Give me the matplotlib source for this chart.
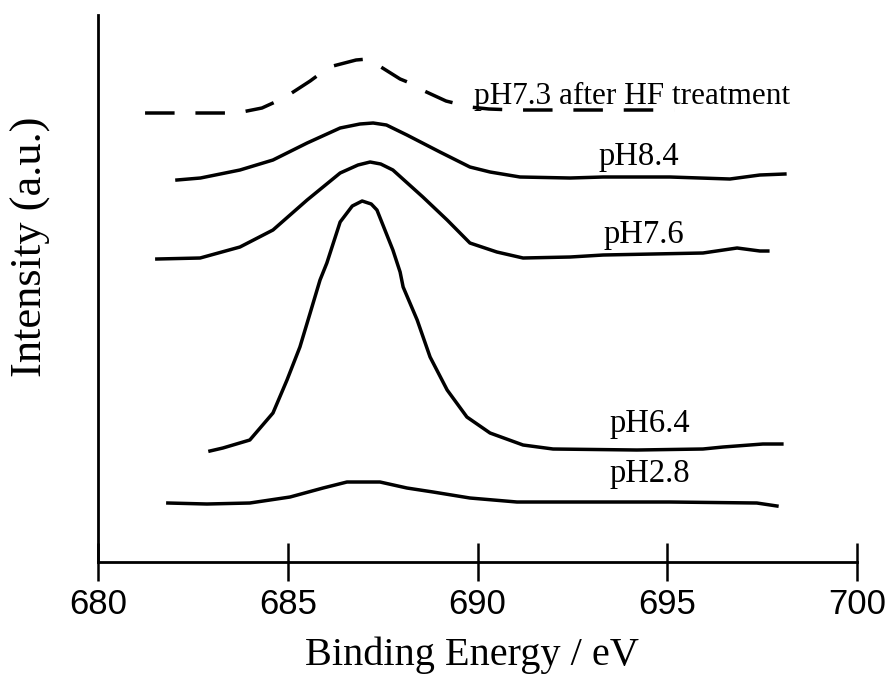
import matplotlib
matplotlib.use("Agg")
import matplotlib.pyplot as plt

# spectra: binding energy (eV) and intensity (a.u., stacked)
hf_x = [681.24, 681.95, 682.45, 683.16, 683.66, 684.32, 684.90, 685.59, 686.09, 686.80,
        687.10, 687.33, 687.96, 688.22, 688.54, 689.17, 689.80, 690.30, 691.00, 692.00,
        693.00, 694.00, 695.18]
hf_y = [449, 449, 449, 449, 449, 454, 464, 481, 495, 502,
        503, 498, 483, 479, 472, 461, 455, 453, 452, 452,
        452, 452, 452]

ph84_x = [682.08, 682.70, 683.74, 684.61, 685.51, 686.38, 686.90, 687.25, 687.60, 688.14,
          689.01, 689.80, 690.33, 691.12, 692.44, 693.31, 695.07, 696.65, 697.44, 698.10]
ph84_y = [382, 384, 392, 402, 419, 434, 438, 439, 437, 427,
          410, 395, 390, 385, 384, 385, 385, 383, 387, 388]

ph76_x = [681.55, 682.69, 683.74, 684.61, 685.51, 686.38, 686.85, 687.17, 687.45, 687.77,
          688.56, 689.20, 689.80, 690.51, 691.20, 692.44, 693.31, 694.62, 695.94, 696.84,
          697.44, 697.65]
ph76_y = [303, 304, 315, 332, 362, 389, 397, 400, 398, 392,
          365, 342, 319, 310, 304, 305, 307, 308, 309, 314,
          311, 311]

ph64_x = [682.95, 683.29, 684.00, 684.61, 684.98, 685.32, 685.59, 685.85, 686.03, 686.38,
          686.70, 686.96, 687.20, 687.35, 687.77, 687.96, 688.04, 688.41, 688.75, 689.20,
          689.72, 690.33, 691.20, 691.99, 694.20, 695.94, 696.47, 697.52, 698.02]
ph64_y = [111, 114, 122, 149, 182, 215, 249, 282, 299, 340,
          356, 361, 358, 352, 312, 290, 275, 242, 205, 172,
          145, 129, 117, 113, 112, 113, 115, 118, 118]

ph28_x = [681.84, 682.87, 684.00, 685.06, 685.93, 686.56, 687.43, 688.14, 688.83, 689.80,
          691.04, 692.44, 695.07, 697.36, 697.89]
ph28_y = [59, 58, 59, 65, 74, 80, 80, 74, 70, 64,
          60, 60, 60, 59, 56]

labels = ["pH7.3 after HF treatment", "pH8.4", "pH7.6", "pH6.4", "pH2.8"]
label_x = [689.90, 693.18, 693.31, 693.49, 693.49]
label_y = [458, 397, 319, 130, 80]
label_size = [22.5, 23.5, 23.5, 23.5, 23.5]

xticks = [680, 685, 690, 695, 700]

fig = plt.figure(figsize=(8.87, 6.79), dpi=100)
ax = fig.add_axes([0.1105, 0.1723, 0.8557, 0.8056])

lw = 2.5
ax.plot(hf_x, hf_y, color="black", lw=lw, linestyle=(0, (8.5, 6)))
ax.plot(ph84_x, ph84_y, color="black", lw=lw)
ax.plot(ph76_x, ph76_y, color="black", lw=lw)
ax.plot(ph64_x, ph64_y, color="black", lw=lw)
ax.plot(ph28_x, ph28_y, color="black", lw=lw)

for t, x, y, s in zip(labels, label_x, label_y, label_size):
    ax.text(x, y, t, family="Liberation Serif", fontsize=s, va="baseline", ha="left")

ax.set_xlim(680, 700)
ax.set_ylim(0, 547)
ax.spines["top"].set_visible(False)
ax.spines["right"].set_visible(False)
ax.spines["left"].set_linewidth(2)
ax.spines["bottom"].set_linewidth(2)
ax.set_yticks([])
ax.set_xticks(xticks)
ax.tick_params(axis="x", direction="inout", length=28, width=1.8, pad=5)
for lab in ax.get_xticklabels():
    lab.set_family("Liberation Sans")
    lab.set_fontsize(25)

fig.text(0.532, 0.035, "Binding Energy / eV", family="Liberation Serif", fontsize=29,
         ha="center", va="center")
fig.text(0.035, 0.637, "Intensity (a.u.)", family="Liberation Serif", fontsize=32,
         ha="center", va="center", rotation=90)

fig.savefig("out.png", dpi=100)
